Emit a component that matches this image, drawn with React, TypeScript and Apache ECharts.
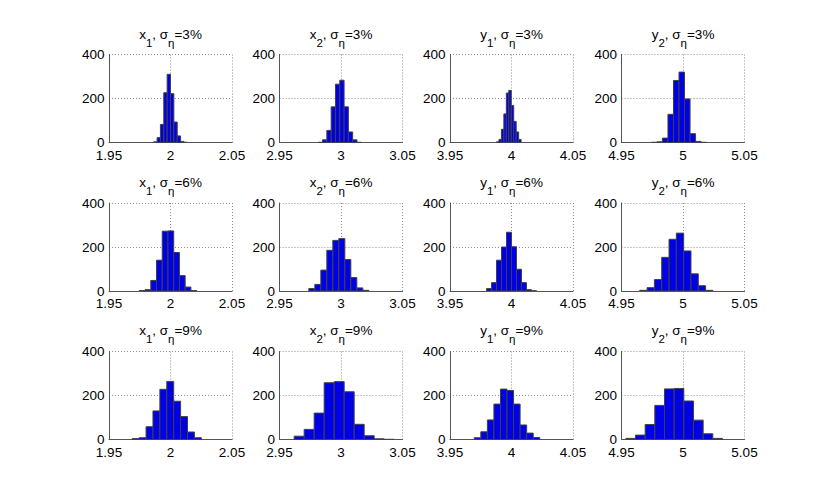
import React, { useEffect, useRef } from 'react';
import * as echarts from 'echarts';

// ---------- data ----------
const variableNames = ['x', 'x', 'y', 'y'];
const variableSubs = ['1', '2', '1', '2'];
const noiseLevels = ['3%', '6%', '9%'];

const xMins = [1.95, 2.95, 3.95, 4.95];
const xMaxs = [2.05, 3.05, 4.05, 5.05];
const xInterval = 0.05;
const xTickLabels = [
  ['1.95', '2', '2.05'],
  ['2.95', '3', '3.05'],
  ['3.95', '4', '4.05'],
  ['4.95', '5', '5.05'],
];
const yTickLabels = ['0', '200', '400'];
const yMax = 400;
const yInterval = 200;

// lowest bin edge and bin width of each histogram (row = noise level, column = variable)
const binStarts3 = [1.98635, 2.9815, 3.9878, 4.9743];
const binWidths3 = [0.00273, 0.0035, 0.002, 0.00449];
const binStarts6 = [1.97466, 2.97385, 3.97973, 4.96486];
const binWidths6 = [0.004658, 0.004878, 0.004054, 0.005946];
const binStarts9 = [1.9689, 2.96192, 3.96973, 4.95351];
const binWidths9 = [0.005616, 0.00813, 0.005324, 0.00786];

// bin counts
const x1Sigma3 = [3, 22, 82, 226, 310, 222, 93, 30, 5, 1];
const x2Sigma3 = [1, 12, 55, 162, 265, 283, 162, 48, 12, 1];
const y1Sigma3 = [3, 14, 60, 130, 225, 237, 168, 96, 48, 14];
const y2Sigma3 = [1, 3, 20, 128, 282, 320, 198, 40, 5, 1];

const x1Sigma6 = [2, 6, 48, 140, 272, 273, 175, 70, 18, 2];
const x2Sigma6 = [11, 30, 95, 185, 230, 238, 143, 61, 14, 3];
const y1Sigma6 = [11, 38, 140, 200, 267, 201, 99, 38, 6, 1];
const y2Sigma6 = [3, 15, 52, 153, 235, 263, 182, 78, 24, 3];

const x1Sigma9 = [4, 8, 58, 130, 228, 264, 174, 104, 34, 8];
const x2Sigma9 = [15, 46, 120, 258, 263, 217, 69, 17, 3, 1];
const y1Sigma9 = [8, 35, 89, 161, 229, 223, 161, 66, 29, 9];
const y2Sigma9 = [5, 20, 68, 155, 230, 232, 175, 88, 26, 5];

const binStarts = [binStarts3, binStarts6, binStarts9];
const binWidths = [binWidths3, binWidths6, binWidths9];
const counts = [
  [x1Sigma3, x2Sigma3, y1Sigma3, y2Sigma3],
  [x1Sigma6, x2Sigma6, y1Sigma6, y2Sigma6],
  [x1Sigma9, x2Sigma9, y1Sigma9, y2Sigma9],
];

// ---------- layout / style ----------
const W = 830;
const H = 493;
const colLefts = [109, 279.5, 450, 621.5];
const plotW = 123;
const rowTops = [54.5, 203, 351.5];
const plotH = 88;
const titleTops = [27, 175, 323];
const FONT = '"Liberation Sans", Arial, Helvetica, sans-serif';
const FS = 13.5;
const SUB_FS = 11.5;
const BAR_FILL = '#0000e6';
const BAR_EDGE = '#404040';
const GRID_LINE = { color: '#8c8c8c', width: 1, type: [1, 2] };

function buildOption() {
  const grids: any[] = [];
  const xAxes: any[] = [];
  const yAxes: any[] = [];
  const series: any[] = [];
  const graphics: any[] = [];

  for (let r = 0; r < 3; r++) {
    for (let c = 0; c < 4; c++) {
      const idx = r * 4 + c;
      grids.push({
        left: colLefts[c],
        top: rowTops[r],
        width: plotW,
        height: plotH,
        containLabel: false,
      });
      const labels = xTickLabels[c];
      const min = xMins[c];
      xAxes.push({
        type: 'value',
        gridIndex: idx,
        min: xMins[c],
        max: xMaxs[c],
        interval: xInterval,
        axisLine: { show: true, lineStyle: { color: '#555', width: 1 } },
        axisTick: { show: false },
        axisLabel: {
          show: true,
          margin: 5.5,
          lineHeight: 14,
          color: '#000',
          fontFamily: FONT,
          fontSize: FS,
          showMinLabel: true,
          showMaxLabel: true,
          hideOverlap: false,
          formatter: (v: number) => labels[Math.round((v - min) / xInterval)] ?? '',
        },
        splitLine: { show: true, lineStyle: GRID_LINE },
      });
      yAxes.push({
        type: 'value',
        gridIndex: idx,
        min: 0,
        max: yMax,
        interval: yInterval,
        axisLine: { show: true, lineStyle: { color: '#555', width: 1 } },
        axisTick: { show: false },
        axisLabel: {
          show: true,
          margin: 4.5,
          lineHeight: 10,
          color: '#000',
          fontFamily: FONT,
          fontSize: FS,
          showMinLabel: true,
          showMaxLabel: true,
          formatter: (v: number) => yTickLabels[Math.round(v / yInterval)] ?? '',
        },
        splitLine: { show: true, lineStyle: GRID_LINE },
      });

      const start = binStarts[r][c];
      const w = binWidths[r][c];
      const data = counts[r][c].map((n, i) => [start + i * w, start + (i + 1) * w, n]);
      series.push({
        type: 'custom',
        xAxisIndex: idx,
        yAxisIndex: idx,
        clip: true,
        encode: { x: [0, 1], y: 2 },
        data,
        renderItem: (_params: any, api: any) => {
          const p0 = api.coord([api.value(0), api.value(2)]);
          const p1 = api.coord([api.value(1), 0]);
          return {
            type: 'rect',
            shape: { x: p0[0], y: p0[1], width: p1[0] - p0[0], height: p1[1] - p0[1] },
            style: { fill: BAR_FILL, stroke: BAR_EDGE, lineWidth: 1 },
          };
        },
      });

      graphics.push({
        type: 'text',
        x: colLefts[c] + plotW / 2,
        y: titleTops[r],
        style: {
          text:
            `{m|${variableNames[c]}}{s|${variableSubs[c]}}{m|, σ}{s|η}{m|=${noiseLevels[r]}}`,
          align: 'center',
          verticalAlign: 'top',
          fill: '#000',
          fontFamily: FONT,
          fontSize: FS,
          rich: {
            m: {
              fontFamily: FONT,
              fontSize: FS,
              verticalAlign: 'top',
              fill: '#000',
            },
            s: {
              fontFamily: FONT,
              fontSize: SUB_FS,
              padding: [10, 0, 0, 0],
              verticalAlign: 'bottom',
              fill: '#000',
            },
          },
        },
      });
    }
  }

  return {
    animation: false,
    backgroundColor: '#fff',
    grid: grids,
    xAxis: xAxes,
    yAxis: yAxes,
    series,
    graphic: graphics,
  };
}

export default function App() {
  const ref = useRef<HTMLDivElement>(null);
  useEffect(() => {
    if (!ref.current) return;
    const chart = echarts.init(ref.current, null, { renderer: 'svg' });
    chart.setOption(buildOption() as any);
    return () => chart.dispose();
  }, []);
  return (
    <div
      ref={ref}
      style={{ position: 'fixed', left: 0, top: 0, width: W, height: H, background: '#fff' }}
    />
  );
}
